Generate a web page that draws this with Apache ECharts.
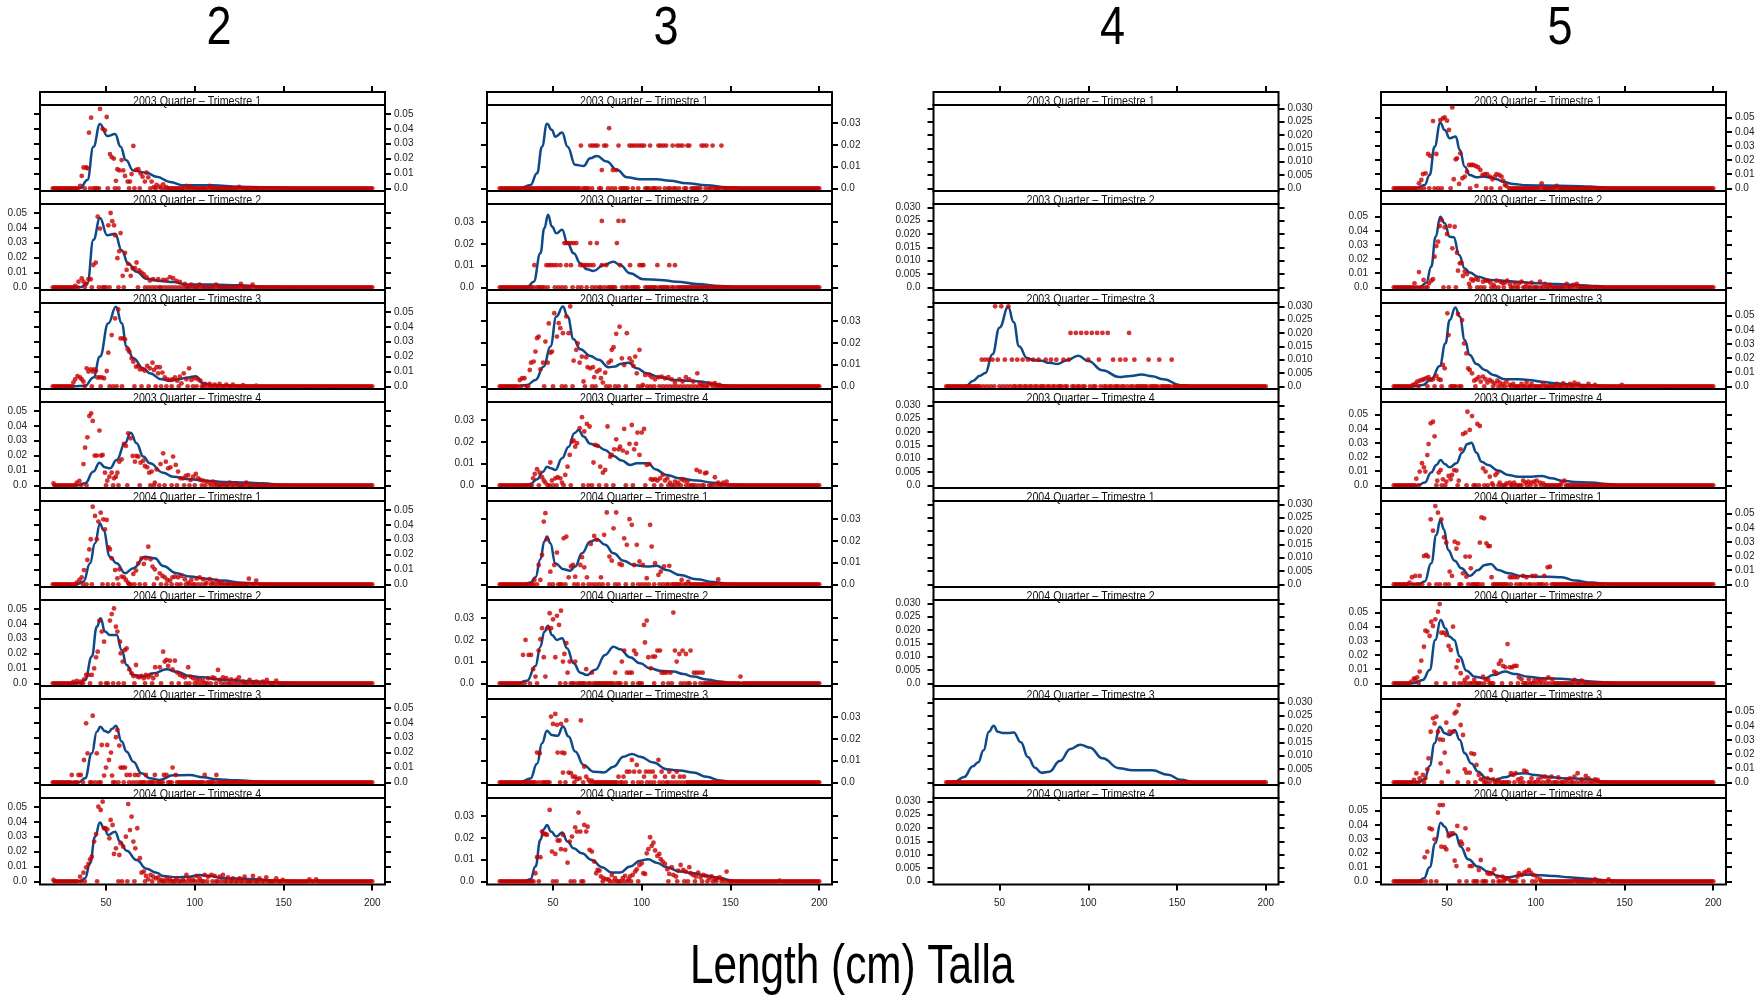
<!DOCTYPE html>
<html>
<head>
<meta charset="utf-8">
<script src="https://cdn.jsdelivr.net/npm/echarts@6/dist/echarts.min.js"></script>
<style>
html, body { margin: 0; padding: 0; background: #fff; }
#chart { width: 1756px; height: 998px; }
</style>
</head>
<body>
<div id="chart"></div>
<script>
// ---- labels ----
const speciesNames = ['2', '3', '4', '5'];
const quarterLabels = [
  '2003 Quarter \u2013 Trimestre 1', '2003 Quarter \u2013 Trimestre 2',
  '2003 Quarter \u2013 Trimestre 3', '2003 Quarter \u2013 Trimestre 4',
  '2004 Quarter \u2013 Trimestre 1', '2004 Quarter \u2013 Trimestre 2',
  '2004 Quarter \u2013 Trimestre 3', '2004 Quarter \u2013 Trimestre 4'
];
const xTitle = 'Length (cm) Talla';
const xTicks = [50, 100, 150, 200];
const yTicks2 = [0, 0.01, 0.02, 0.03, 0.04, 0.05];
const yTicks3 = [0, 0.01, 0.02, 0.03];
const yTicks4 = [0, 0.005, 0.010, 0.015, 0.020, 0.025, 0.030];
const yTicks5 = [0, 0.01, 0.02, 0.03, 0.04, 0.05];
const lengthFirst = 20, lengthLast = 200;

// ---- species 2 : density curves [length, density] and observed proportions ----
const sp2_03q1_line = [[20,0],[35.4,0],[39.5,.0056],[42.9,.028],[46.6,.0433],[50.7,.0352],[55.1,.0365],[58.2,.028],[61.2,.019],[65.4,.0119],[72.8,.0105],[78.5,.0078],[86,.0043],[93.4,.002],[110,.002],[125,.0011],[140,.0007],[160,0],[200,0]];
const sp2_03q1_pts = [[35.4,.0016],[36.3,.0083],[37.3,.014],[38.8,.014],[39.5,.0135],[40.4,.0374],[41.6,.0475],[46.6,.0534],[48.1,.040],[49.4,.039],[50.4,.048],[52.2,.023],[53.2,.021],[54.4,.020],[55.6,.005],[56.4,.0128],[57.5,.012],[58.8,.019],[59.7,.012],[60.7,.0083],[62.2,.0045],[63.5,.0045],[64.4,.0096],[65.4,.0285],[66.9,.0123],[68.2,.0128],[69.5,.01],[70.6,.0078],[71.9,.0045],[72.8,.0105],[73.8,.0074],[75.7,.0045],[77,.0007],[78.5,.0022],[80.3,.0011],[82.2,.0027],[84,.0007],[95.3,.0016],[98,.0011],[108.4,.0016],[125,.001]];
const sp2_03q2_line = [[20,0],[35.4,0],[39.5,.0027],[42.9,.032],[46.6,.0466],[50.7,.035],[55.1,.036],[58.8,.025],[62.5,.016],[67.2,.0105],[72.8,.0058],[80.3,.0043],[87.8,.0036],[95.3,.0018],[110,.0018],[125,.0013],[140,.0004],[155,0],[200,0]];
const sp2_03q2_pts = [[32.6,.0009],[34.5,.0038],[36.3,.006],[37.3,.0038],[38.8,.0022],[40.1,.0054],[41.4,.0054],[42.9,.015],[44.2,.0166],[45.3,.0475],[46.6,.0395],[51.3,.0417],[52.6,.050],[53.5,.0445],[54.5,.0417],[55.1,.035],[56.4,.0196],[57.5,.0243],[58.2,.0365],[59.4,.0077],[60.7,.0232],[61.6,.0117],[62.5,.0158],[63.9,.0077],[65,.0128],[66.3,.0128],[67.2,.0167],[68.7,.0113],[70,.0099],[71.3,.0086],[72.8,.0068],[74.7,.0045],[76.6,.0054],[79.4,.0054],[82.2,.005],[84,.005],[86,.0068],[87.8,.0061],[89.7,.0043],[91.6,.0036],[94.4,.0022],[98,.0018],[102.7,.0018],[112,.0018],[126,.0022],[132.6,.0018]];
const sp2_03q3_line = [[20,0],[31.6,0],[38.2,.0004],[42.9,.006],[46.6,.020],[51.3,.0424],[55.6,.0536],[58.8,.0424],[61.6,.0267],[65.4,.0188],[71,.0121],[74.7,.0087],[81.3,.0047],[86,.0038],[90.6,.0047],[96.3,.006],[100.5,.0068],[104.7,.002],[110,.0009],[129,.0002],[140,0],[200,0]];
const sp2_03q3_pts = [[31.6,.0025],[32.6,.0047],[33.9,.0069],[35.4,.006],[36.3,.0047],[37.3,.0031],[39.1,.0121],[40.1,.0099],[41.4,.0114],[42.5,.0099],[43.3,.0114],[44.4,.0105],[45.1,.006],[46.3,.006],[47.6,.006],[48.9,.0054],[50.4,.0103],[51.3,.0226],[53.2,.0345],[55.1,.0457],[56.9,.0517],[58.2,.0322],[59.7,.0322],[60.7,.0316],[62.2,.0249],[63.1,.0233],[64.4,.0188],[65.4,.0166],[66.9,.0132],[68.2,.0137],[69.1,.0114],[70.6,.0114],[71.9,.0105],[73.2,.0137],[74.7,.0121],[76.2,.0159],[77,.011],[78.5,.0128],[79.4,.0087],[80.3,.0128],[81.8,.0092],[83.1,.006],[84.5,.0047],[86,.0043],[87.5,.0047],[88.8,.006],[90.1,.0038],[91.6,.0065],[92.5,.002],[93.8,.0087],[95.3,.0047],[96.8,.0121],[98.1,.0043],[100,.0054],[101.9,.0047],[103.2,.0038],[105.6,.0016],[108.4,.0016],[111.2,.0011],[114,.0016],[117.8,.0011],[121.5,.0011],[127.2,.0007],[134.7,.0004]];
const sp2_03q4_line = [[20,0],[33.5,0],[38.2,.0013],[42.9,.0092],[46.3,.0152],[49.4,.0121],[52.2,.0114],[56,.017],[60.7,.0283],[63.9,.0354],[67.2,.0283],[71,.0193],[74.7,.0148],[82.2,.0085],[87.8,.0058],[97.2,.004],[106.6,.0031],[116,.0022],[129,.0018],[138.4,.0013],[150,.0002],[160,0],[200,0]];
const sp2_03q4_pts = [[20.4,.0013],[33.5,.0018],[35,.0029],[37.3,.0143],[38.2,.0253],[39.5,.0323],[40.6,.0466],[41.6,.0484],[42.5,.0433],[43.6,.02],[44.8,.02],[46.3,.0368],[47.2,.02],[48.1,.0204],[49.4,.0085],[50.7,.0031],[51.9,.0058],[53.2,.0085],[54.5,.0047],[55.6,.0058],[56.4,.0085],[57.5,.0159],[58.8,.0175],[60.1,.0278],[61.2,.0265],[62.5,.035],[63.9,.0316],[65,.0197],[66.3,.0159],[67.2,.0197],[68.2,.0193],[69.5,.0152],[71,.0166],[71.9,.013],[73.2,.0121],[74.3,.0085],[75.7,.0092],[77.5,.0018],[78.5,.0107],[80.7,.0143],[82.2,.0215],[83.7,.0159],[85,.0114],[86.3,.0121],[87.8,.0193],[89.3,.0137],[90.6,.0092],[91.9,.0047],[93.4,.0047],[94.9,.0063],[96.3,.0069],[97.6,.0036],[99.1,.0058],[100.6,.0076],[101.9,.0047],[103.2,.0036],[104.7,.0031],[106.6,.0025],[108.4,.0018],[110.3,.0025],[112,.0013],[115.9,.0009],[119.7,.0018],[123.4,.0013],[129,.0018]];
const sp2_04q1_line = [[20,0],[33.5,0],[37.3,.0018],[41,.0141],[43.8,.0276],[46.6,.041],[48.5,.0365],[52.2,.0186],[56,.0141],[60.7,.0074],[65.4,.0108],[71.9,.0186],[77.5,.0175],[82.2,.0123],[89.7,.0074],[97.2,.0052],[106.6,.0038],[116,.0025],[127,.0011],[140,.0002],[150,0],[200,0]];
const sp2_04q1_pts = [[33.5,.0011],[35,.0029],[36.3,.0047],[37.6,.0096],[39.5,.0164],[40.6,.0235],[41.4,.0303],[42.5,.0522],[43.8,.046],[44.8,.0303],[45.7,.0422],[47,.0482],[48.5,.0437],[49.4,.037],[50.4,.0433],[51.5,.0249],[52.2,.0235],[53.2,.0175],[55.1,.0096],[56.4,.004],[57.5,.0101],[58.8,.0052],[60.1,.0047],[61.2,.0029],[62.4,.0011],[65.4,.007],[66.9,.0092],[68.2,.0141],[70,.0175],[71.3,.0137],[72.5,.0175],[73.8,.0253],[75.1,.0168],[76.2,.0119],[77.5,.0101],[78.8,.004],[80.3,.0074],[81.8,.0056],[83.1,.0047],[84.5,.0029],[86,.0025],[87.5,.0047],[88.8,.0052],[90.6,.0047],[92.5,.0056],[94.4,.0034],[96.3,.0011],[98.1,.0029],[101,.0038],[102.8,.0047],[104.7,.0034],[106.6,.0011],[108.4,.0034],[110,.0011],[112.2,.0025],[114,.0011],[115.5,.0007],[119.7,.0007],[130.5,.0038],[134.6,.0025]];
const sp2_04q2_line = [[20,0],[34.5,0],[38.2,.0022],[42,.018],[44.8,.038],[47,.0437],[49.4,.0348],[52.2,.0325],[56,.0325],[58.8,.0224],[61.6,.0123],[65.4,.0056],[71,.0045],[76.6,.0067],[84.1,.0094],[89.7,.0078],[97.2,.0049],[104.7,.004],[112,.0027],[119.7,.0022],[129,.0016],[138.4,.0011],[149.6,.0004],[160,0],[200,0]];
const sp2_04q2_pts = [[31.6,.0009],[33.5,.0016],[35.4,.0011],[37.6,.0027],[38.8,.0056],[40.1,.0056],[42,.0056],[43.3,.01],[44.4,.0175],[45.3,.0213],[46.3,.0422],[47.6,.0348],[48.9,.028],[52.2,.0422],[53.2,.0466],[54.5,.0504],[55.6,.0381],[56.4,.0348],[57.9,.028],[58.2,.0202],[59.4,.0146],[60.7,.0224],[61.6,.0235],[63.1,.0094],[64.4,.0067],[65.4,.0049],[66.9,.0123],[67.6,.0045],[68.7,.004],[70,.0049],[71.3,.0034],[72.5,.0056],[73.8,.004],[75.1,.0056],[76.6,.0034],[77.7,.0108],[78.5,.0056],[80.3,.0108],[82.2,.0213],[83.1,.0146],[84.1,.0157],[85,.0117],[86,.0152],[87.5,.0094],[88.8,.0152],[90.1,.0072],[91.6,.0056],[93.1,.0049],[94.4,.004],[96.3,.0108],[97.6,.0045],[99.1,.0034],[101,.0022],[102.8,.0027],[104.7,.0018],[107.5,.0034],[110,.004],[111.2,.0034],[113.1,.009],[114,.0022],[115.9,.004],[117.8,.0034],[120.6,.0027],[123.4,.0022],[124.9,.004],[127.2,.0011],[130.9,.0022],[134.7,.0011],[138.4,.0011],[140.6,.0022],[145.9,.0018]];
const sp2_04q3_line = [[20,0],[34.5,0],[38.2,.0027],[42,.0195],[44.8,.034],[46.8,.0374],[49.4,.0345],[51.3,.0335],[53.5,.036],[55.6,.038],[58.8,.0274],[61.6,.0206],[65.4,.0139],[70,.0061],[74.7,.0027],[80.3,.0016],[87.8,.0047],[97.2,.0049],[104.7,.0034],[112,.002],[123.4,.0013],[138.4,.0004],[150,0],[200,0]];
const sp2_04q3_pts = [[30.7,.0049],[34.5,.0049],[35.8,.0049],[37.6,.015],[38.8,.0397],[39.6,.0195],[42.5,.0448],[44.8,.0195],[47.6,.0251],[48.9,.0045],[50,.0099],[50.7,.0251],[51.7,.015],[52.8,.02],[53.4,.0045],[55.6,.0303],[56.4,.0352],[57.5,.0247],[58.2,.0099],[59.4,.0099],[60.7,.0099],[61.6,.0049],[63.5,.0049],[66.3,.0049],[68.2,.0049],[72.5,.0049],[77.5,.0049],[82.6,.0049],[84.1,.0049],[87.5,.0099],[89.3,.0049],[105.6,.0049],[112.2,.0049]];
const sp2_04q4_line = [[20,0],[35.4,0],[38.2,.002],[41,.0121],[43.8,.030],[46.6,.0395],[48.9,.0357],[51.3,.0312],[55.1,.0334],[57.9,.0267],[61.6,.0206],[67.2,.0143],[72.8,.0085],[78.5,.0058],[82.2,.0036],[89.7,.0027],[97.2,.0031],[102.8,.0043],[108.4,.0036],[115.9,.002],[125.3,.0018],[134.6,.0013],[145.9,.0004],[160,0],[200,0]];
const sp2_04q4_pts = [[20.4,.0009],[35.4,.0031],[37.3,.0058],[38.8,.0094],[40.1,.0117],[41,.0148],[42,.0166],[43.3,.0267],[44.4,.0318],[45.7,.0502],[47,.048],[48.1,.0536],[48.9,.0357],[49.6,.0357],[50.7,.035],[51.9,.0289],[52.6,.0413],[53.7,.0379],[54.5,.0184],[55.6,.0222],[57.5,.0177],[58.2,.0256],[59.7,.0233],[61.2,.03],[62.5,.052],[63.5,.0345],[64.4,.0435],[65.4,.0267],[66.5,.0222],[67.6,.0357],[69.1,.0155],[70,.0058],[71.3,.0065],[72.5,.0036],[73.8,.0013],[75.1,.0043],[76.6,.0031],[78.1,.002],[79.4,.0027],[81.3,.0009],[84.1,.002],[86,.0013],[89.7,.002],[93.4,.0009],[95.3,.0043],[96.8,.002],[99.1,.0009],[101,.0036],[102.8,.002],[105.6,.0043],[107.5,.0031],[109.4,.0043],[111.2,.0036],[114,.0031],[115.9,.0043],[118.7,.0027],[121.5,.002],[125.3,.002],[128.1,.0031],[132.8,.0036],[136.5,.002],[140.3,.0027],[145.9,.002],[149.6,.0009],[164.6,.0013],[168.4,.0013]];

// ---- species 3 ----
const sp3_03q1_line = [[20,0],[31.6,0],[37.3,.0015],[41,.0069],[43.8,.0192],[46.6,.0297],[49.4,.0269],[51.3,.0238],[55.1,.0257],[58.2,.0192],[62.5,.0108],[67.2,.0103],[71,.0138],[74.7,.0149],[80.3,.0123],[86,.0085],[91.6,.0051],[99.1,.0042],[108.4,.0042],[115.9,.0035],[125.3,.0023],[136.5,.0014],[147.8,.0005],[160,0],[200,0]];
const sp3_03q1_pts = [[65.7,.0197],[71,.0197],[72.5,.0197],[73.8,.0197],[75.1,.0197],[78.8,.0197],[80,.0197],[86.9,.0197],[93.1,.0197],[94.4,.0197],[95.7,.0197],[97.2,.0197],[98.7,.0197],[100,.0197],[101.3,.0197],[104.7,.0197],[109.4,.0197],[110.7,.0197],[112.2,.0197],[113.7,.0197],[117.4,.0197],[120,.0197],[121.5,.0197],[123,.0197],[125.7,.0197],[126.8,.0197],[133.7,.0197],[135,.0197],[136.5,.0197],[139.9,.0197],[144.9,.0197],[81.6,.0277],[77.5,.0084],[83.7,.0084],[85.6,.0084]];
const sp3_03q2_line = [[20,0],[35.4,0],[39.1,.0026],[42.9,.0157],[45.1,.0272],[47.2,.0334],[49.4,.028],[51.9,.0249],[55.1,.0265],[58.2,.0203],[61.6,.0157],[65.4,.0111],[69.1,.0083],[72.8,.0075],[78.5,.0103],[84.1,.0118],[87.8,.0103],[93.4,.0065],[100.9,.0037],[110.3,.0034],[119.7,.0026],[130.9,.0015],[144,.0006],[155,0],[200,0]];
const sp3_03q2_pts = [[77.5,.0306],[86.9,.0306],[89.7,.0306],[56.4,.0204],[57.5,.0204],[58.8,.0204],[60.1,.0204],[61.6,.0204],[63.1,.0204],[71,.0204],[74.7,.0204],[86,.0204],[39.5,.0102],[46.3,.0102],[47.6,.0102],[48.9,.0102],[50.4,.0102],[51.9,.0102],[54.1,.0102],[57.5,.0102],[60.1,.0102],[65.4,.0102],[66.9,.0102],[68.2,.0102],[69.5,.0102],[71,.0102],[72.8,.0102],[77.5,.0102],[80,.0102],[87.8,.0102],[93.4,.0102],[98.7,.0102],[100,.0102],[100.9,.0102],[108.8,.0102],[115.5,.0102],[118.7,.0102]];
const sp3_03q3_line = [[20,0],[27.9,0],[35.4,.0006],[40.1,.0029],[44.8,.0091],[48.5,.0183],[51.9,.0322],[55.6,.0368],[58.2,.0322],[61.6,.0217],[65.4,.0171],[71,.014],[75.7,.0122],[81.3,.0088],[85,.0091],[87.8,.0103],[92.5,.0109],[97.2,.0083],[102.8,.006],[110.3,.0042],[117.8,.0029],[125.3,.0026],[132.8,.0022],[140.3,.0011],[147.8,.0003],[155,0],[200,0]];
const sp3_03q3_pts = [[31.3,.0029],[32.6,.0037],[33.9,.0037],[36.9,.0075],[37.6,.0109],[39.1,.0114],[40.1,.016],[41,.0222],[41.9,.0229],[42.9,.0078],[44.4,.0109],[45.7,.0206],[47,.0109],[47.6,.029],[48.5,.0155],[49.4,.016],[50.7,.0337],[52.2,.0229],[53.2,.0291],[54.1,.0268],[55.6,.0245],[57.5,.0322],[58.8,.0245],[59.7,.0368],[61.6,.0118],[63.1,.0168],[63.9,.0198],[65,.0109],[66.3,.0137],[67.2,.0022],[68.7,.0134],[69.5,.0088],[71,.0083],[72.5,.0088],[73.2,.0042],[74.7,.0068],[76.2,.0075],[77,.0037],[78.1,.0017],[79.4,.0063],[81.3,.0109],[82.6,.0118],[83.1,.0168],[84.1,.018],[85.6,.0242],[87.5,.0275],[88.8,.0129],[90.1,.0098],[91.6,.0245],[93.1,.0129],[94.4,.0114],[95.3,.0094],[96.3,.0137],[97.2,.006],[98.7,.0168],[100.6,.0006],[101.9,.0052],[104.3,.0052],[105.6,.0042],[107.5,.0032],[109.4,.0042],[111.2,.0045],[113.1,.0037],[115,.0042],[116.9,.0032],[118.7,.0017],[121.2,.0032],[123,.0022],[124.9,.0042],[126.8,.0032],[129,.0022],[131.3,.006],[132.8,.0014],[134.5,.0006],[137.5,.0014],[139.3,.0011],[141.2,.0014],[143.6,.0006]];
const sp3_03q4_line = [[20,0],[33.5,0],[37.3,.0006],[41,.0028],[44.4,.0063],[46.6,.0086],[48.9,.0078],[51.3,.0071],[55.1,.0125],[58.8,.0178],[62,.024],[64.4,.0255],[67.2,.0225],[71,.0191],[74.7,.0182],[79.4,.0163],[84.1,.0135],[88.8,.0114],[93.4,.0094],[97.2,.0102],[103.7,.0102],[107.5,.0074],[114,.0048],[121.5,.0032],[130.9,.0022],[140.3,.0012],[149.6,.0003],[160,0],[200,0]];
const sp3_03q4_pts = [[38.8,.0032],[39.7,.0052],[41,.0074],[42.5,.0058],[43.8,.0037],[44.8,.0022],[45.7,.0012],[48.5,.0105],[49.4,.0022],[51.3,.0032],[52.6,.0037],[54.1,.0032],[55.1,.0012],[56.9,.0048],[58.2,.0086],[59.4,.014],[60.7,.0202],[61.6,.0206],[62.5,.0178],[63.5,.0194],[65,.0263],[66.3,.0314],[67.6,.0248],[69.1,.0283],[70.6,.0271],[72.8,.0105],[73.8,.0186],[75.1,.0182],[76.6,.0086],[78.1,.0058],[79.4,.0071],[80.7,.0271],[82.2,.0132],[83.1,.014],[84.5,.0166],[85.6,.0212],[86.9,.0166],[87.8,.0178],[89.3,.016],[90.1,.026],[91.6,.0151],[93.1,.0191],[94.4,.0278],[95.7,.0166],[96.8,.0191],[97.6,.0243],[98.7,.014],[100,.0243],[101.3,.026],[102.8,.0094],[104.3,.0098],[105.1,.0028],[106.2,.0025],[107.5,.0028],[108.8,.0022],[110.3,.0032],[111.8,.0048],[113.1,.0022],[114.4,.0032],[115.9,.0012],[118.7,.0017],[120.6,.0012],[122.5,.0028],[123.8,.0022],[125.7,.0017],[130.9,.0071],[132.8,.0063],[135.6,.0055],[136.5,.0058],[141.2,.0037],[143.1,.0012],[145.9,.0012],[147.8,.0017]];
const sp3_04q1_line = [[20,0],[33.5,0],[37.3,.0008],[40.1,.0032],[42.9,.0115],[45.1,.0197],[46.6,.022],[48.5,.0189],[51.3,.0097],[56,.0069],[59.7,.0063],[62.5,.0082],[66.3,.0143],[71,.0197],[74.7,.0208],[79.4,.0182],[84.1,.0143],[89.7,.0109],[95.3,.0089],[102.8,.0082],[108.4,.0085],[114,.0066],[121.5,.0043],[130.9,.0023],[140.3,.0011],[147.8,.0003],[155,0],[200,0]];
const sp3_04q1_pts = [[39.5,.002],[41.9,.0089],[42.9,.002],[43.8,.0135],[44.8,.0289],[45.7,.0328],[46.6,.0208],[48.5,.0058],[50.7,.0089],[52.2,.0146],[56,.0212],[57.5,.022],[58.8,.0032],[60.1,.0082],[61.2,.0089],[62.5,.0035],[65.4,.0089],[66.3,.0125],[67.6,.0078],[69.1,.0032],[71.3,.0186],[73.2,.0223],[74.7,.0205],[77,.0032],[78.8,.0228],[80.3,.0331],[81.8,.0128],[83.1,.0109],[84.1,.0258],[85.6,.0331],[87.5,.0094],[88.8,.0089],[90.1,.0212],[91.6,.0182],[93.1,.03],[94.4,.0274],[95.7,.0089],[97.2,.0182],[98.7,.0105],[100.6,.0089],[102.8,.0028],[104.7,.0274],[105.6,.0174],[107.5,.0097],[109.4,.0043],[110.7,.0058],[112.5,.0082],[115.5,.0085],[122.5,.002],[126.2,.0012],[143.1,.0023]];
const sp3_04q2_line = [[20,0],[29.8,0],[35.4,.0012],[40.1,.008],[42.9,.0169],[45.1,.0238],[47.2,.0265],[49.4,.0223],[52.2,.02],[55.1,.0208],[57.9,.0162],[61.6,.0092],[65.4,.0049],[69.1,.0038],[73.8,.0062],[79.4,.0131],[84.1,.0169],[87.8,.0157],[93.4,.012],[99.1,.0092],[104.7,.0069],[110.3,.0058],[117.8,.0054],[123.4,.0043],[129,.0031],[136.5,.0018],[144,.0008],[152,0],[200,0]];
const sp3_04q2_pts = [[33.1,.0131],[34.5,.02],[36.3,.0131],[37.6,.0131],[38.8,.0065],[40.1,.0031],[41.9,.0151],[42.9,.0203],[43.8,.0254],[44.8,.012],[45.7,.0031],[47,.0254],[48.1,.0323],[48.9,.0254],[50,.0295],[51.3,.012],[52.2,.0311],[53.4,.0269],[54.5,.0335],[55.6,.01],[56.4,.0135],[57.5,.0185],[58.2,.0049],[59.4,.01],[62.5,.01],[68.7,.0065],[71.9,.0049],[85,.0049],[88.8,.01],[90.1,.0151],[91.6,.0049],[93.1,.0049],[94.4,.0049],[95.7,.0151],[96.8,.0135],[101.3,.0269],[101.8,.0188],[102.8,.0289],[103.7,.012],[105.1,.0069],[106.2,.0123],[107.5,.0123],[108.8,.0151],[110.3,.0151],[111.2,.0049],[112.5,.0049],[114,.0049],[116.2,.0049],[117.8,.0326],[118.7,.0151],[119.7,.01],[121.2,.0135],[123,.0151],[124.9,.0135],[127.5,.0151],[129.4,.0049],[130.9,.0049],[132.4,.0049],[134.3,.0049],[155.6,.0031]];
const sp3_04q3_line = [[20,0],[31.6,0],[37.3,.0018],[41,.0085],[43.8,.018],[46.6,.0238],[49.4,.0218],[52.6,.0214],[55.6,.0257],[58.8,.0211],[62.5,.0142],[67.2,.008],[72.8,.0049],[78.5,.0045],[84.1,.0072],[89.7,.0118],[94.4,.0131],[99.1,.0118],[106.6,.0091],[114,.006],[121.5,.0054],[129,.0045],[136.5,.0026],[144,.0008],[152,0],[200,0]];
const sp3_04q3_pts = [[41,.0137],[42.5,.0134],[48.9,.0303],[50,.0269],[51.3,.0315],[52.2,.0265],[52.6,.0137],[54.5,.0269],[55.1,.0137],[55.6,.0045],[56.4,.0134],[57.5,.0285],[58.8,.0045],[60.1,.0042],[61.2,.0026],[62.5,.0026],[63.5,.0014],[65,.0018],[65.7,.0285],[67.6,.0072],[68.7,.0026],[70,.0011],[71.9,.0008],[86.9,.0026],[89.7,.0026],[91.6,.0049],[93.1,.0049],[94.4,.0103],[95.7,.0049],[97.2,.008],[98.7,.0049],[101.3,.0026],[102.4,.0049],[104.3,.0049],[106.2,.0049],[107.5,.0026],[109.4,.0103],[111.2,.0049],[113.1,.0026],[115.5,.0049],[117.8,.0026],[119.7,.0049],[121.5,.0026],[123.8,.0026]];
const sp3_04q4_line = [[20,0],[33.5,0],[37.3,.0009],[40.1,.0068],[42.9,.0191],[44.8,.024],[46.6,.026],[48.9,.0229],[51.9,.0206],[55.1,.0225],[58.2,.0183],[61.6,.0152],[66.3,.0129],[71.9,.0098],[77.5,.0065],[83.1,.004],[87.8,.004],[93.4,.0068],[99.1,.0095],[103.7,.0102],[108.4,.0086],[114,.0065],[121.5,.0045],[129,.0037],[136.5,.0025],[144,.0014],[151.5,.0003],[160,0],[200,0]];
const sp3_04q4_pts = [[40.1,.0037],[41,.0111],[42.9,.0111],[43.8,.0229],[44.8,.0218],[45.7,.0218],[46.6,.0214],[48.1,.0329],[49.4,.0137],[51.3,.0126],[52.6,.0188],[53.7,.0188],[54.5,.0148],[55.6,.0214],[56.9,.0145],[58.2,.0086],[59.4,.0183],[60.7,.0206],[62.5,.0249],[63.5,.0229],[64.4,.0317],[65.4,.0229],[67.6,.026],[68.7,.0229],[69.5,.0252],[70.6,.0145],[71.9,.0137],[73.2,.0091],[74.3,.0037],[75.1,.0052],[76.2,.0049],[77,.0022],[78.5,.0014],[80,.0009],[81.3,.0009],[83.1,.0029],[85,.0014],[89.3,.0014],[90.6,.0025],[92.5,.0009],[93.4,.0022],[94.9,.0029],[96.3,.0045],[97.2,.0055],[98.7,.0075],[100,.0083],[100.9,.0037],[101.9,.0034],[102.8,.0129],[103.7,.0148],[104.7,.0203],[105.6,.0163],[106.6,.0178],[107.5,.0142],[108.8,.0117],[109.9,.0126],[110.7,.0102],[111.8,.0091],[113.1,.008],[114.4,.0055],[115.5,.0034],[116.9,.0065],[117.8,.0029],[119.3,.0022],[120.6,.0049],[121.9,.0075],[123.4,.0052],[124.9,.0045],[126.8,.0065],[127.5,.0037],[129,.0029],[130.5,.0022],[131.8,.004],[133.1,.0018],[134.6,.0029],[136.1,.0025],[138,.0014],[139.3,.0022],[141.2,.0009],[142.5,.0014],[144,.0018],[145.5,.0009],[147.8,.0045],[177.7,.0003]];

// ---- species 4 (only two quarters sampled) ----
const sp4_03q3_line = [[20,0],[31,0],[35,.002],[39,.004],[42,.005],[46,.012],[50,.022],[54.9,.0297],[58,.024],[61,.015],[65.5,.0106],[69,.0098],[73.6,.0096],[78,.0088],[82.8,.0084],[88,.0098],[94.3,.0115],[100,.0095],[108,.006],[117.4,.0035],[124,.0039],[130,.0044],[136,.0038],[142.5,.0026],[152,.0004],[160,0],[200,0]];
const sp4_03q3_pts = [[47.5,.03],[51,.03],[55,.03],[90,.02],[93,.02],[96,.02],[99,.02],[102,.02],[105,.02],[108,.02],[111,.02],[123,.02],[40,.01],[42,.01],[44,.01],[46,.01],[49,.01],[53,.01],[57,.01],[60,.01],[63,.01],[66,.01],[69,.01],[72,.01],[76,.01],[79,.01],[82,.01],[86,.01],[89,.01],[100,.01],[106,.01],[114,.01],[118,.01],[121,.01],[126,.01],[134,.01],[140,.01],[147,.01]];
const sp4_04q3_line = [[20,0],[25,.0003],[30,.002],[35,.006],[38,.0075],[41,.012],[44,.019],[46.7,.0212],[49,.019],[52,.0185],[55,.0185],[58,.0187],[62,.015],[66,.0095],[70,.0055],[73.6,.0036],[78,.004],[84,.008],[90,.0125],[95.5,.0141],[101,.013],[108,.009],[117.4,.0053],[125,.0045],[136,.0045],[145,.0028],[152,.001],[160,0],[200,0]];
const sp4_04q3_pts = [];

// ---- species 5 ----
const sp5_03q1_line = [[20,0],[32.7,0],[37.4,.0024],[40.2,.0094],[43,.0295],[46.2,.0465],[48.7,.0413],[51.5,.0354],[54.9,.0366],[57.2,.0271],[60,.0153],[62.8,.0094],[66.6,.0078],[70.3,.0083],[74.1,.0078],[77.9,.0064],[81.6,.0047],[87.3,.0031],[94.8,.0021],[106.1,.0019],[119.3,.0017],[130.6,.0012],[138,.0005],[145,0],[200,0]];
const sp5_03q1_pts = [[34.2,.0035],[35.5,.0059],[36.4,.0101],[37.9,.0106],[39.3,.0243],[40.6,.0229],[42.1,.0476],[44,.0243],[46.2,.0483],[47.7,.0495],[48.7,.0502],[50,.0479],[51.1,.0413],[53,.0573],[53.8,.0064],[54.9,.0205],[55.6,.0212],[56.8,.0031],[57.5,.0248],[58.7,.0071],[60,.0083],[61.3,.0118],[62.4,.0165],[63.7,.0165],[64.7,.0165],[66.2,.0158],[66.6,.0017],[67.5,.0149],[68.8,.013],[70,.0094],[71.3,.0101],[72.6,.0101],[74.1,.0083],[75.6,.0064],[76.9,.0083],[77.9,.0101],[79.4,.0094],[80.7,.0083],[81.6,.0054],[82.6,.0024],[83.5,.0017],[103.3,.0035],[111.8,.0017]];
const sp5_03q2_line = [[20,0],[34.6,0],[38.3,.0033],[41.1,.0146],[43.6,.0358],[46.2,.05],[48.7,.0453],[51.5,.0358],[53.8,.0354],[56.8,.0229],[60,.0134],[62.8,.0104],[67.5,.0075],[74.1,.0052],[81.6,.0047],[89.2,.004],[100.5,.0028],[111.8,.0024],[123.1,.0017],[134.4,.0009],[142,0],[200,0]];
const sp5_03q2_pts = [[31.7,.0028],[34.2,.0108],[36.8,.0052],[39.8,.0028],[41.1,.0047],[42.1,.0057],[43,.0217],[44,.0292],[45,.0323],[45.9,.0434],[46.8,.0476],[48.7,.0425],[50,.0377],[51.5,.0434],[53,.0276],[54.3,.0429],[55.6,.0245],[56.2,.0118],[57.2,.017],[58.1,.0175],[59,.008],[60,.0111],[61.3,.0094],[62.4,.0024],[63.7,.0057],[64.7,.0047],[66.2,.0061],[67.5,.0052],[70.3,.004],[71.8,.0047],[73.1,.0047],[74.4,.0033],[76.3,.0017],[77.9,.0047],[80.1,.004],[81.3,.0028],[82.6,.0033],[83.9,.0047],[85.4,.0024],[88.2,.0028],[90.6,.0028],[92,.004],[94.8,.0024],[97.6,.0033],[102.4,.004],[105.2,.0024],[108,.0017],[117.4,.0024],[121.2,.0017],[123.1,.0024]];
const sp5_03q3_line = [[20,0],[30.8,0],[36.4,.0009],[41.1,.005],[45.9,.0144],[49.1,.0304],[51.5,.0469],[54.7,.0559],[57.2,.0493],[60,.0328],[62.8,.0222],[66.6,.0158],[71.3,.0116],[76,.008],[82.6,.005],[90.1,.005],[95.8,.0045],[103.3,.0033],[110.8,.0021],[118.4,.0014],[129.7,.0007],[141,0],[200,0]];
const sp5_03q3_pts = [[30.8,.0009],[32.1,.0017],[33.2,.0033],[34.6,.004],[35.9,.0045],[37,.005],[38.3,.0057],[39.6,.0064],[40.8,.0045],[42.1,.005],[44,.0073],[45.3,.005],[46.4,.0045],[47.7,.0151],[48.7,.0127],[50.2,.0517],[50.9,.0363],[56.2,.0512],[58.5,.0469],[59.6,.0304],[60.9,.0233],[61.9,.0127],[62.8,.0116],[64.1,.0092],[65.3,.004],[66.6,.005],[67.9,.0064],[69,.0033],[70.3,.0068],[71.7,.005],[72.8,.0026],[74.1,.0045],[75.4,.0033],[76.9,.0021],[78.4,.004],[79.7,.0026],[81.6,.0017],[83.5,.0033],[85.4,.0009],[87.3,.0017],[92,.0017],[94.8,.0026],[97.6,.0017],[104.2,.0021],[111.8,.0017],[115.5,.0021],[119.3,.0017],[121.8,.0026],[124,.0017],[129.7,.0017],[133.4,.0009],[148.5,.0009]];
const sp5_03q4_line = [[20,0],[33.6,0],[37.4,.0019],[41.1,.009],[44,.0144],[46.4,.0179],[48.7,.0151],[51.5,.0127],[55.3,.0156],[58.5,.0231],[61.5,.0292],[63.7,.0302],[66.6,.0231],[69.4,.0167],[73.2,.0144],[78.8,.0104],[84.5,.0073],[90.1,.0061],[97.6,.0061],[103.3,.0066],[108.9,.005],[114.6,.0033],[122.1,.0024],[131.5,.0019],[140,.0009],[148,0],[200,0]];
const sp5_03q4_pts = [[32.7,.0047],[34.6,.0097],[35.9,.0156],[37,.0127],[37.8,.0097],[38.9,.0214],[39.6,.0292],[40.8,.0439],[42.1,.045],[43,.0347],[44.5,.0033],[45.3,.009],[46.4,.0108],[47.7,.0042],[49.6,.0026],[50.9,.0066],[52.1,.0042],[52.8,.0073],[54,.0108],[55.3,.0104],[56.6,.0033],[57.7,.0255],[59,.0363],[60.4,.0373],[61.5,.0521],[62.8,.0392],[64.1,.049],[67.1,.0434],[68.5,.042],[70.3,.012],[71.7,.0097],[74.1,.0061],[75.4,.0014],[77.3,.0073],[78.4,.009],[79.7,.0019],[83.5,.0014],[85.4,.0019],[87.8,.0019],[92.9,.0033],[94.2,.0019],[95.8,.0026],[97.6,.0019],[99.1,.0026],[100.5,.0033],[102.4,.0019],[104.2,.0014],[114.6,.0019],[116.1,.0033]];
const sp5_04q1_line = [[20,0],[33.6,0],[37.4,.0019],[41.1,.0149],[44,.0349],[46.2,.0455],[48.3,.0389],[50.6,.0243],[54.3,.0167],[58.1,.0113],[62.8,.0059],[67.5,.0101],[71.3,.0137],[74.7,.0144],[78.8,.0101],[84.5,.0078],[92,.0059],[99.5,.0054],[107.1,.0054],[114.6,.005],[122.1,.0026],[131.5,.0012],[140,.0002],[148,0],[200,0]];
const sp5_04q1_pts = [[28.9,.0012],[30.2,.005],[32.1,.0059],[34.6,.0059],[37,.02],[38.3,.0208],[39.3,.0196],[40.8,.046],[42.1,.038],[43.4,.0554],[44.9,.0507],[46.8,.046],[48.3,.0333],[49.6,.0295],[51.5,.009],[52.8,.0059],[54.3,.0302],[55.3,.0252],[56.2,.029],[59,.0078],[60.4,.0196],[60.9,.0054],[62.8,.0196],[63.4,.0113],[68.5,.0295],[69.4,.0474],[70.9,.0467],[72.2,.029],[73.2,.0271],[74.1,.0271],[75.1,.005],[85.4,.005],[86.7,.005],[88.2,.005],[89.7,.005],[92.9,.0059],[94.8,.005],[98,.0059],[99.9,.0059],[104.8,.0059],[106.7,.012],[108,.0125]];
const sp5_04q2_line = [[20,0],[30.8,0],[36.4,.0024],[40.2,.0094],[43.4,.0307],[46.4,.0448],[49.1,.0389],[51.5,.033],[54,.0307],[57.2,.0189],[60.9,.009],[65.6,.0047],[71.3,.0035],[76,.0059],[82.6,.0083],[88.2,.0066],[95.8,.0047],[103.3,.0035],[114.6,.0033],[122.1,.0024],[131.5,.0012],[140,.0005],[148,0],[200,0]];
const sp5_04q2_pts = [[29.8,.0012],[31.4,.0035],[32.1,.0024],[33.2,.0042],[34.6,.0083],[35.5,.016],[37,.0259],[37.8,.0373],[38.9,.0366],[40.2,.0335],[41.1,.0436],[42.1,.0406],[43.4,.0453],[44.9,.0507],[45.9,.0561],[46.8,.0358],[48.3,.0358],[49.6,.0342],[50.9,.0264],[52.1,.0236],[53.4,.0401],[55.3,.0113],[56.2,.016],[57.7,.0071],[60,.0024],[61.5,.0042],[65.3,.0024],[70.3,.0047],[71.7,.0028],[73.2,.0024],[76.6,.0083],[77.9,.0071],[79.2,.0137],[80.3,.016],[81.6,.0123],[82.9,.0113],[84.1,.0278],[85.4,.0113],[86.7,.0113],[87.9,.0123],[89.2,.0123],[90.5,.0042],[92,.0028],[96.1,.0028],[99.2,.0019],[101.4,.0024],[103,.0019],[105.2,.0028],[107.1,.0042],[109.4,.0028],[121.8,.0024],[125.9,.0019]];
const sp5_04q3_line = [[20,0],[33.6,0],[37.4,.0021],[40.2,.0116],[43,.0276],[45.9,.0394],[48.7,.0347],[51.5,.0335],[54.3,.037],[57.2,.03],[60,.0205],[63.7,.0134],[67.5,.0075],[72.2,.0028],[76.9,.0017],[82.6,.0035],[88.2,.0059],[93.9,.0064],[99.5,.0052],[107.1,.004],[114.6,.0028],[122.1,.0026],[129.7,.0021],[137.2,.0005],[145,0],[200,0]];
const sp5_04q3_pts = [[31.4,.0017],[32.7,.0064],[34.6,.0028],[36.4,.0052],[37.8,.0028],[38.9,.0092],[39.6,.017],[40.8,.0358],[42.1,.0453],[43,.0417],[44,.0465],[44.9,.0358],[45.9,.0304],[46.4,.0134],[47.7,.03],[48.7,.021],[49.6,.0422],[50.6,.0075],[51.5,.0358],[53.4,.0358],[54.3,.0488],[55.3,.05],[56.6,.0547],[57.7,.0406],[59,.0335],[60,.0092],[60.9,.0068],[62.8,.0068],[63.7,.0205],[65.3,.02],[66.6,.0123],[67.9,.0052],[69,.0021],[70.3,.0021],[72.8,.0028],[74.7,.0087],[76,.0021],[78.8,.0017],[86,.0064],[87.3,.0052],[88.6,.0064],[90.1,.0021],[91.9,.0028],[93.5,.0083],[94.8,.0075],[97.6,.0028],[101.4,.0021],[103.3,.0035],[105.2,.004],[107.1,.0017],[108.9,.004],[112.7,.0035],[117.4,.0021],[119.3,.0028],[121.8,.004],[123.6,.0064],[125.9,.0021],[128.2,.0045],[129.7,.0028],[133.4,.0021],[134.9,.0017]];
const sp5_04q4_line = [[20,0],[33.6,0],[37,.0021],[40.2,.0099],[43.4,.0269],[46.4,.0415],[48.7,.0387],[51.5,.0321],[54.7,.0335],[57.7,.0245],[61.9,.0156],[67.5,.0104],[73.2,.0068],[78.8,.0038],[84.5,.0028],[92,.0045],[97.6,.0047],[103.3,.0042],[110.8,.0038],[118.4,.0028],[125.9,.0021],[133.4,.0014],[141,.0005],[150,0],[200,0]];
const sp5_04q4_pts = [[37.4,.017],[38.9,.021],[40.2,.0375],[41.5,.0368],[43,.0297],[44.9,.0486],[45.9,.054],[46.8,.0245],[47.7,.054],[48.7,.0241],[49.6,.0226],[50.9,.0321],[52.1,.034],[53.4,.034],[54.3,.0146],[55.3,.0108],[55.8,.0392],[57.7,.0281],[58.5,.0264],[60.4,.0375],[61.9,.0226],[62.8,.0108],[64.1,.0108],[67.9,.008],[69,.0151],[72.8,.0057],[74.1,.0052],[75.4,.0057],[76.6,.0085],[78.4,.0033],[81.2,.0033],[82.6,.0014],[83.5,.0021],[84.8,.0014],[89.7,.0033],[90.5,.0057],[92,.0045],[93.5,.0061],[94.8,.0068],[96.1,.008],[97.2,.0061],[98.6,.0045],[100.5,.0033],[102.4,.0014],[122.1,.0009],[133.4,.0014],[141,.0014]];

// ---- assemble panels: one column per species, one row per quarter ----
const panelData = {
  '2': [[sp2_03q1_line, sp2_03q1_pts], [sp2_03q2_line, sp2_03q2_pts], [sp2_03q3_line, sp2_03q3_pts], [sp2_03q4_line, sp2_03q4_pts],
        [sp2_04q1_line, sp2_04q1_pts], [sp2_04q2_line, sp2_04q2_pts], [sp2_04q3_line, sp2_04q3_pts], [sp2_04q4_line, sp2_04q4_pts]],
  '3': [[sp3_03q1_line, sp3_03q1_pts], [sp3_03q2_line, sp3_03q2_pts], [sp3_03q3_line, sp3_03q3_pts], [sp3_03q4_line, sp3_03q4_pts],
        [sp3_04q1_line, sp3_04q1_pts], [sp3_04q2_line, sp3_04q2_pts], [sp3_04q3_line, sp3_04q3_pts], [sp3_04q4_line, sp3_04q4_pts]],
  '4': [null, null, [sp4_03q3_line, sp4_03q3_pts], null, null, null, [sp4_04q3_line, sp4_04q3_pts], null],
  '5': [[sp5_03q1_line, sp5_03q1_pts], [sp5_03q2_line, sp5_03q2_pts], [sp5_03q3_line, sp5_03q3_pts], [sp5_03q4_line, sp5_03q4_pts],
        [sp5_04q1_line, sp5_04q1_pts], [sp5_04q2_line, sp5_04q2_pts], [sp5_04q3_line, sp5_04q3_pts], [sp5_04q4_line, sp5_04q4_pts]]
};
const yTickSets = { '2': yTicks2, '3': yTicks3, '4': yTicks4, '5': yTicks5 };
const yDecimals = { '2': 2, '3': 2, '4': 3, '5': 2 };
// value range of each column's y scale (data range padded by 4% at both ends)
const yRange = { '2': [-0.00216, 0.05606], '3': [-0.00148, 0.0384], '4': [-0.0012, 0.03124], '5': [-0.00227, 0.0590] };
const xRange = [12.8, 207.2];

// ---- layout ----
const colLeft = [40, 487, 933.5, 1381];
const panelW = 345;
const firstStripTop = 92;
const rowPitch = 99;
const stripH = 13;
const panelH = 86.5;

const BLUE = '#0e4a8a';
const RED = '#c80000';
const TXT = '#222';
const labelFont = "'Liberation Sans Narrow', 'Liberation Sans', Arial, sans-serif";

const grids = [], xAxes = [], yAxes = [], series = [], graphics = [];

speciesNames.forEach((sp, c) => {
  for (let r = 0; r < 8; r++) {
    const idx = c * 8 + r;
    const stripTop = firstStripTop + r * rowPitch;
    grids.push({
      left: colLeft[c], top: stripTop + stripH, width: panelW, height: panelH,
      show: true, borderColor: '#000', borderWidth: 2, backgroundColor: 'transparent',
      containLabel: false, outerBoundsMode: 'none'
    });
    const isTop = r === 0, isBottom = r === 7;
    xAxes.push({
      gridIndex: idx, type: 'value', min: xRange[0], max: xRange[1],
      position: isTop ? 'top' : 'bottom', offset: isTop ? stripH : 0,
      axisLine: { show: false, onZero: false }, splitLine: { show: false },
      axisTick: { show: isTop || isBottom, length: 6, customValues: xTicks, lineStyle: { color: '#000', width: 2 } },
      axisLabel: { show: isBottom, customValues: xTicks, fontSize: 10, color: TXT, fontFamily: labelFont, margin: 14 }
    });
    const ticks = yTickSets[sp];
    const dec = yDecimals[sp];
    const fmt = v => (Math.abs(v) < 1e-12 ? '0.0' : v.toFixed(dec));
    ['left', 'right'].forEach(side => {
      const showLabel = side === 'left' ? (r % 2 === 1) : (r % 2 === 0);
      yAxes.push({
        gridIndex: idx, type: 'value', min: yRange[sp][0], max: yRange[sp][1], position: side,
        axisLine: { show: false, onZero: false }, splitLine: { show: false },
        axisTick: { show: true, length: 6, customValues: ticks, lineStyle: { color: '#000', width: 2 } },
        axisLabel: { show: showLabel, customValues: ticks, formatter: fmt, fontSize: 10, color: TXT,
                     fontFamily: labelFont, margin: side === 'left' ? 13 : 9 }
      });
    });

    const entry = panelData[sp][r];
    if (entry) {
      const [curve, obs] = entry;
      // every length class without an observed proportion is plotted at zero
      const seen = new Set(obs.map(p => Math.round(p[0])));
      const zeros = [];
      for (let L = lengthFirst; L <= lengthLast; L++) if (!seen.has(L)) zeros.push([L, 0]);
      series.push({
        type: 'line', xAxisIndex: idx, yAxisIndex: idx * 2, data: curve,
        smooth: 0.45, smoothMonotone: 'x', showSymbol: false, symbol: 'none',
        lineStyle: { color: BLUE, width: 2.5 }, z: 2, silent: true, clip: true
      });
      series.push({
        type: 'scatter', xAxisIndex: idx, yAxisIndex: idx * 2, data: zeros.concat(obs),
        symbol: 'circle', symbolSize: 4.8, itemStyle: { color: RED }, z: 3, silent: true, clip: true
      });
    }

    // strip with the quarter label
    graphics.push({
      type: 'rect', z: 10,
      shape: { x: colLeft[c], y: stripTop, width: panelW, height: stripH },
      style: { fill: '#fff', stroke: '#000', lineWidth: 2 }
    });
    graphics.push({
      type: 'text', z: 11, x: colLeft[c] + 93, y: stripTop + 9, scaleX: 0.82,
      style: { text: quarterLabels[r], fontSize: 13, fontFamily: "'Liberation Sans', Arial, sans-serif",
               fill: '#111', textAlign: 'left', textVerticalAlign: 'middle' }
    });
  }
  // species heading
  graphics.push({
    type: 'text', z: 11, x: colLeft[c] + panelW / 2 + 6.5, y: 29, scaleX: 0.85,
    style: { text: sp, fontSize: 53, fontFamily: "'Liberation Sans', Arial, sans-serif", fill: '#000',
             textAlign: 'center', textVerticalAlign: 'middle' }
  });
});

// common x title
graphics.push({
  type: 'text', z: 11, x: 690, y: 968, scaleX: 0.755,
  style: { text: xTitle, fontSize: 56, fontFamily: "'Liberation Sans', Arial, sans-serif", fill: '#000',
           textAlign: 'left', textVerticalAlign: 'middle' }
});

const chart = echarts.init(document.getElementById('chart'), null, { renderer: 'canvas' });
chart.setOption({
  animation: false,
  backgroundColor: '#fff',
  grid: grids,
  xAxis: xAxes,
  yAxis: yAxes,
  series: series,
  graphic: graphics
});
</script>
</body>
</html>
